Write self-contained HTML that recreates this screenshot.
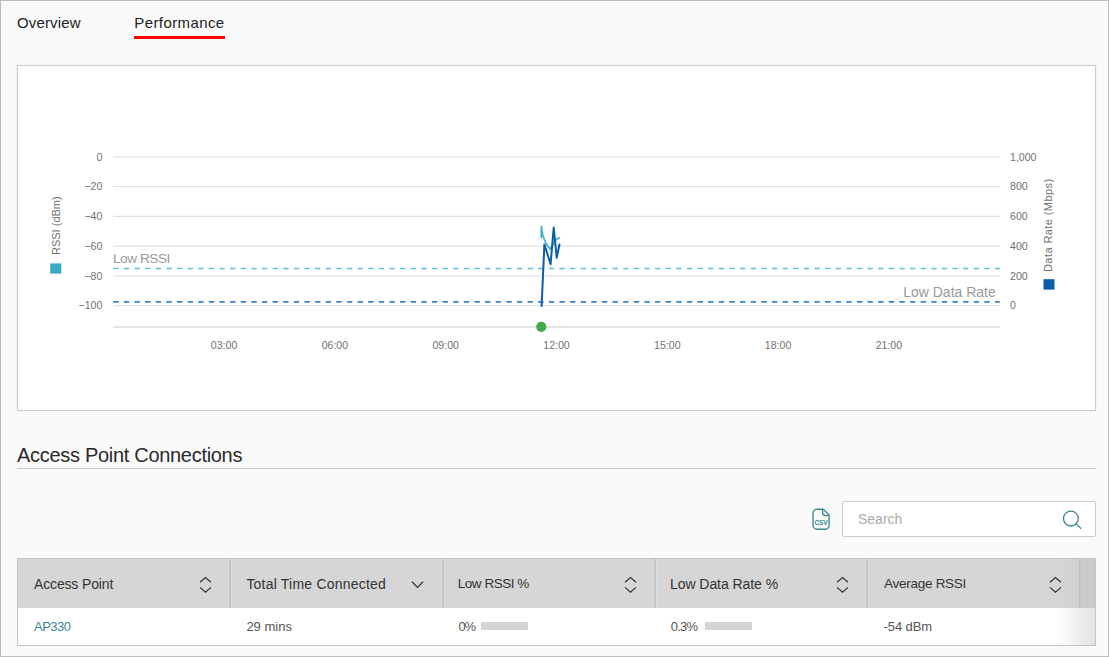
<!DOCTYPE html>
<html>
<head>
<meta charset="utf-8">
<title>Performance</title>
<style>
html,body{margin:0;padding:0;}
body{width:1109px;height:657px;overflow:hidden;background:#fafafa;font-family:"Liberation Sans",sans-serif;color:#333;position:relative;}
.frame{position:absolute;left:0;top:0;width:1107px;height:655px;border:1px solid #bdbdbd;pointer-events:none;z-index:10;}
.tab{position:absolute;top:13px;font-size:15px;line-height:20px;color:#222;white-space:nowrap;}
#tab1{left:17px;}
#tab2{left:135px;}
#tabline{position:absolute;left:134px;top:36px;width:91px;height:3px;background:#f00;}
#chartbox{position:absolute;left:17px;top:65px;width:1077px;height:344px;border:1px solid #ccc;background:#fff;box-shadow:0 0 1px rgba(0,0,0,.15);}
#chart{position:absolute;left:0;top:0;}
#chart text{font-family:"Liberation Sans",sans-serif;}
h2{position:absolute;left:17px;top:442px;margin:0;font-weight:normal;font-size:20px;line-height:26px;color:#2a2a2a;white-space:nowrap;}
#rule{position:absolute;left:17px;top:468px;width:1079px;height:1px;background:#c8c8c8;}
#search{position:absolute;left:842px;top:501px;width:252px;height:34px;border:1px solid #ccc;border-radius:2px;background:#fff;}
#search span{position:absolute;left:15px;top:7.4px;font-size:14px;line-height:20px;color:#aaa;}
#search svg{position:absolute;left:217px;top:5px;}
#csv{position:absolute;left:810px;top:506px;}
#tbl{position:absolute;left:17px;top:558px;width:1077px;height:86px;border:1px solid #c4c4c4;background:#fff;overflow:hidden;}
#thead{position:absolute;left:0;top:0;width:1077px;height:49px;background:#d6d6d6;}
.th{position:absolute;top:0;height:49px;width:212px;box-sizing:border-box;}
.th span{position:absolute;left:16px;top:15px;font-size:14px;line-height:20px;color:#333;white-space:nowrap;}
.th svg{position:absolute;left:181px;top:17px;}
.td{position:absolute;top:58px;font-size:13px;line-height:20px;color:#555;white-space:nowrap;}
.bar{position:absolute;top:63px;width:47px;height:8px;background:#d5d5d5;}
.sep{position:absolute;top:0;width:4px;height:49px;background:linear-gradient(to right,#dbdbdb 0,#dbdbdb 1px,#c1c1c1 1px,#c1c1c1 2px,#c6c6c6 2px,#c6c6c6 3px,#dcdcdc 3px,#dcdcdc 4px);}
#fade{position:absolute;left:1038px;top:49px;width:39px;height:37px;background:linear-gradient(to right,rgba(226,226,226,0),rgba(226,226,226,1));}
#hfade{position:absolute;left:1040px;top:0;width:37px;height:49px;background:linear-gradient(to right,rgba(200,200,200,0) 0,rgba(200,200,200,.45) 21px,transparent 21px),linear-gradient(to right,transparent 22px,#cbcbcb 22px);}
</style>
</head>
<body>
<div class="tab" id="tab1" style="letter-spacing:0.14px">Overview</div>
<div class="tab" id="tab2" style="letter-spacing:0.4px;left:134.3px">Performance</div>
<div id="tabline"></div>

<div id="chartbox">
<svg id="chart" width="1077" height="344" viewBox="18 66 1077 344">
<line x1="113.2" x2="999.8" y1="156.90" y2="156.90" stroke="#e1e1e1" stroke-width="1.4"/>
<line x1="113.2" x2="999.8" y1="186.65" y2="186.65" stroke="#e1e1e1" stroke-width="1.4"/>
<line x1="113.2" x2="999.8" y1="216.40" y2="216.40" stroke="#e1e1e1" stroke-width="1.4"/>
<line x1="113.2" x2="999.8" y1="246.15" y2="246.15" stroke="#e1e1e1" stroke-width="1.4"/>
<line x1="113.2" x2="999.8" y1="275.90" y2="275.90" stroke="#e1e1e1" stroke-width="1.4"/>
<line x1="113.2" x2="999.8" y1="305.65" y2="305.65" stroke="#e1e1e1" stroke-width="1.4"/>
<line x1="113.2" x2="999.8" y1="326.9" y2="326.9" stroke="#dadada" stroke-width="1.5"/>
<text x="102.4" y="160.70" text-anchor="end" font-size="10.6" fill="#727272">0</text>
<text x="102.4" y="190.45" text-anchor="end" font-size="10.6" fill="#727272">−20</text>
<text x="102.4" y="220.20" text-anchor="end" font-size="10.6" fill="#727272">−40</text>
<text x="102.4" y="249.95" text-anchor="end" font-size="10.6" fill="#727272">−60</text>
<text x="102.4" y="279.70" text-anchor="end" font-size="10.6" fill="#727272">−80</text>
<text x="102.4" y="309.45" text-anchor="end" font-size="10.6" fill="#727272">−100</text>
<text x="1010" y="160.70" text-anchor="start" font-size="10.6" fill="#727272">1,000</text>
<text x="1010" y="190.45" text-anchor="start" font-size="10.6" fill="#727272">800</text>
<text x="1010" y="220.20" text-anchor="start" font-size="10.6" fill="#727272">600</text>
<text x="1010" y="249.95" text-anchor="start" font-size="10.6" fill="#727272">400</text>
<text x="1010" y="279.70" text-anchor="start" font-size="10.6" fill="#727272">200</text>
<text x="1010" y="309.45" text-anchor="start" font-size="10.6" fill="#727272">0</text>
<text x="224.1" y="349.4" text-anchor="middle" font-size="10.6" fill="#727272">03:00</text>
<text x="334.9" y="349.4" text-anchor="middle" font-size="10.6" fill="#727272">06:00</text>
<text x="445.7" y="349.4" text-anchor="middle" font-size="10.6" fill="#727272">09:00</text>
<text x="556.5" y="349.4" text-anchor="middle" font-size="10.6" fill="#727272">12:00</text>
<text x="667.3" y="349.4" text-anchor="middle" font-size="10.6" fill="#727272">15:00</text>
<text x="778.1" y="349.4" text-anchor="middle" font-size="10.6" fill="#727272">18:00</text>
<text x="888.9" y="349.4" text-anchor="middle" font-size="10.6" fill="#727272">21:00</text>
<line x1="113.2" x2="999.8" y1="268.5" y2="268.5" stroke="#5cc3db" stroke-width="1.4" stroke-dasharray="5.4,5.224"/>
<line x1="113.2" x2="999.8" y1="301.9" y2="301.9" stroke="#3a86c8" stroke-width="1.9" stroke-dasharray="5.4,5.224"/>
<text x="113" y="263.3" font-size="13.6" fill="#9a9a9a" letter-spacing="-0.45">Low RSSI</text>
<text x="995.8" y="296.7" text-anchor="end" font-size="14" fill="#9a9a9a" letter-spacing="0">Low Data Rate</text>
<text transform="translate(60.3,255) rotate(-90)" font-size="11" fill="#727272">RSSI (dBm)</text>
<rect x="50.2" y="263.4" width="11.1" height="10.2" fill="#3aa8c3"/>
<text transform="translate(1051.8,272) rotate(-90)" font-size="11" fill="#727272" letter-spacing="0.42">Data Rate (Mbps)</text>
<rect x="1043.5" y="279.2" width="11" height="10.4" fill="#0a5ea8"/>
<polyline fill="none" stroke="#3fb0c6" stroke-width="1.7" stroke-linejoin="round" stroke-linecap="round" points="541.7,226.6 541.3,237.6 541.3,227.5 543,236 546,243.5 550.2,249.3 553.4,243.5 556.5,239.2 559.4,237.8"/>
<polyline fill="none" stroke="#0b5ea8" stroke-width="2" stroke-linejoin="round" stroke-linecap="round" points="541.6,306 544.4,244.4 550.6,264.2 553.7,227.6 556.7,257.7 559.5,244.5"/>
<circle cx="541.3" cy="326.9" r="5.1" fill="#43a94a"/>
</svg>
</div>

<h2 style="letter-spacing:-0.3px">Access Point Connections</h2>
<div id="rule"></div>

<svg id="csv" width="22" height="26" viewBox="0 0 22 26"><path d="M7 3.2h6.3l5.8 5.8v10.2a4 4 0 0 1-4 4H7a4 4 0 0 1-4-4V7.2a4 4 0 0 1 4-4z" fill="none" stroke="#3b8795" stroke-width="1.35" stroke-linejoin="round"/>
<path d="M12.6 3.4v3.2a3 3 0 0 0 3 3h3.2" fill="none" stroke="#3b8795" stroke-width="1.35"/>
<text x="11" y="18.8" text-anchor="middle" font-family="Liberation Sans, sans-serif" font-weight="bold" font-size="6.6" fill="#3b8795" letter-spacing="-0.2">CSV</text></svg>
<div id="search"><span>Search</span>
<svg width="26" height="26" viewBox="0 0 26 26"><circle cx="10.9" cy="11.6" r="7.4" fill="none" stroke="#3b8795" stroke-width="1.3"/><line x1="16.2" y1="16.9" x2="20.6" y2="21.2" stroke="#3b8795" stroke-width="1.3" stroke-linecap="round"/></svg>
</div>

<div id="tbl">
 <div id="thead">
  <div class="th" style="left:0px;width:212px"><span style="letter-spacing:-0.15px;left:16px">Access Point</span><svg width="13" height="18" viewBox="0 0 13 18"><path d="M1 6.3L6.5 1.5l5.5 4.8M1 11.4l5.5 4.8l5.5-4.8" fill="none" stroke="#333" stroke-width="1.25"/></svg></div>
  <div class="th" style="left:212px;width:213px"><span style="letter-spacing:0.21px;left:16.4px">Total Time Connected</span><svg width="13" height="18" viewBox="0 0 13 18"><path d="M1 5.8L6.5 11.4l5.5-5.6" fill="none" stroke="#333" stroke-width="1.25"/></svg></div>
  <div class="th" style="left:425px;width:212px"><span style="letter-spacing:-0.48px;left:14.8px;font-size:13.5px">Low RSSI %</span><svg width="13" height="18" viewBox="0 0 13 18"><path d="M1 6.3L6.5 1.5l5.5 4.8M1 11.4l5.5 4.8l5.5-4.8" fill="none" stroke="#333" stroke-width="1.25"/></svg></div>
  <div class="th" style="left:637px;width:213px"><span style="letter-spacing:-0.06px;left:15px">Low Data Rate %</span><svg width="13" height="18" viewBox="0 0 13 18"><path d="M1 6.3L6.5 1.5l5.5 4.8M1 11.4l5.5 4.8l5.5-4.8" fill="none" stroke="#333" stroke-width="1.25"/></svg></div>
  <div class="th" style="left:850px;width:212px"><span style="letter-spacing:-0.27px;left:16px;font-size:13.5px">Average RSSI</span><svg width="13" height="18" viewBox="0 0 13 18"><path d="M1 6.3L6.5 1.5l5.5 4.8M1 11.4l5.5 4.8l5.5-4.8" fill="none" stroke="#333" stroke-width="1.25"/></svg></div>
  <div id="hfade"></div>
  <div class="sep" style="left:210px"></div><div class="sep" style="left:423px"></div><div class="sep" style="left:635px"></div><div class="sep" style="left:847px"></div><div class="sep" style="left:1060px;background:linear-gradient(to right,#d3d3d3 0,#d3d3d3 1px,#c0c0c0 1px,#c0c0c0 2px,#c4c4c4 2px,#c4c4c4 3px,#cecece 3px,#cecece 4px)"></div>
 </div>
 <div class="td" style="left:16px;color:#3b8795;letter-spacing:-0.5px">AP330</div>
 <div class="td" style="left:228.4px">29 mins</div>
 <div class="td" style="left:440.5px;letter-spacing:-1.2px">0%</div><div class="bar" style="left:463px"></div>
 <div class="td" style="left:652.8px;letter-spacing:-0.77px">0.3%</div><div class="bar" style="left:686.5px"></div>
 <div class="td" style="left:865.5px;letter-spacing:-0.08px">-54 dBm</div>
 <div id="fade"></div>
</div>
<div class="frame"></div>
</body>
</html>
